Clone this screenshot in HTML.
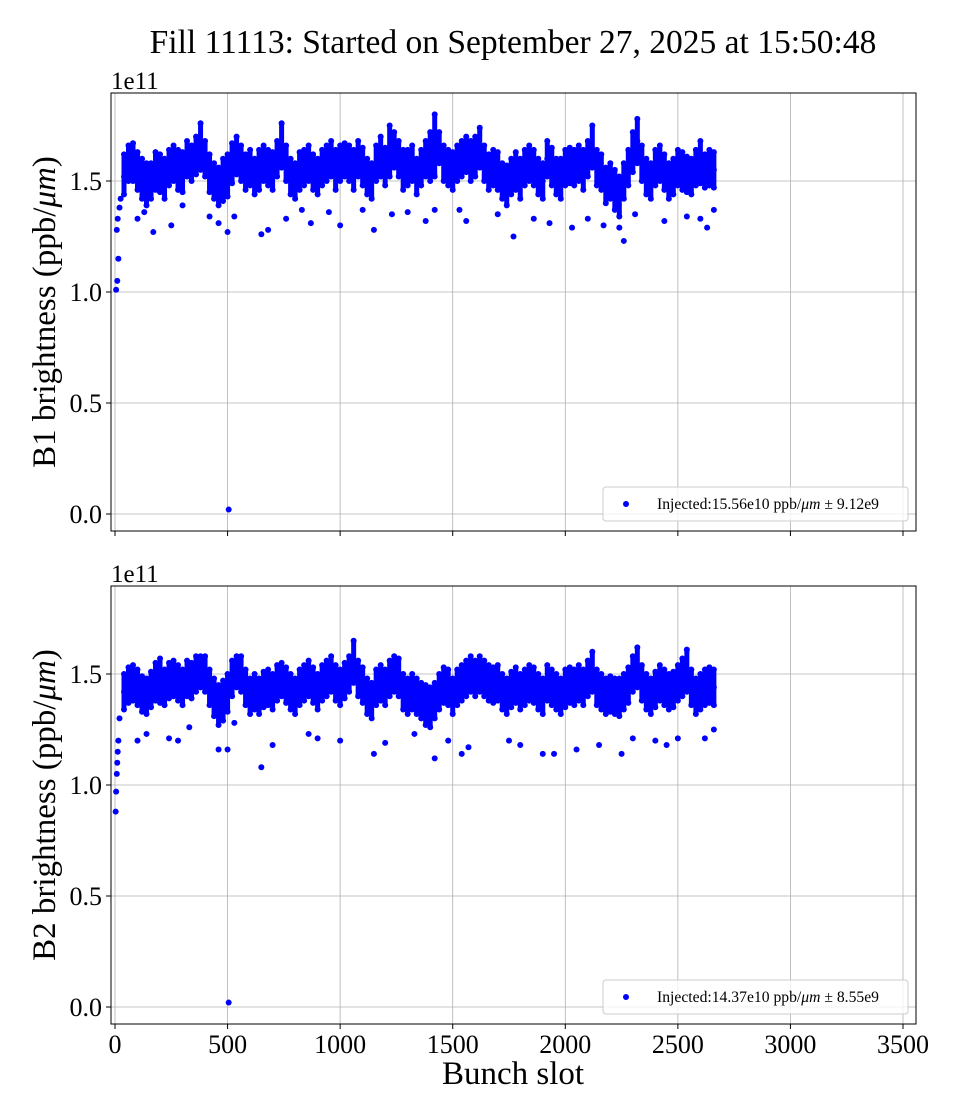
<!DOCTYPE html>
<html><head><meta charset="utf-8"><style>
body{margin:0;background:#fff}
svg{display:block;font-family:"Liberation Serif",serif}
</style></head><body>
<svg id="chart" width="960" height="1120" viewBox="0 0 960 1120"></svg>
<script>
const xTicks=[0,500,1000,1500,2000,2500,3000,3500];
const yTicks=[0,0.5,1.0,1.5];
const yTickLabels=["0.0","0.5","1.0","1.5"];
const slots=[];for(let s=40;s<=2660;s+=20)slots.push(s);
const b1Mid=[152,158,160,156,152,148,150,155,154,150,
156,158,155,154,160,158,162,165,160,154,
150,147,150,152,158,162,158,154,156,152,
155,158,156,154,160,165,158,152,150,155,
156,158,154,152,156,158,160,155,158,160,
158,155,160,157,152,150,158,160,156,160,
165,160,155,156,158,152,156,160,158,160,
166,158,156,154,158,160,162,158,160,164,
158,154,156,155,150,148,152,154,150,156,
158,156,152,150,160,156,152,150,156,157,
156,158,155,160,164,156,154,148,150,146,
142,150,156,162,168,158,152,150,156,158,
154,150,152,156,155,153,152,156,157,155,
156,155];
const b1Hi=[162,166,167,163,160,158,158,163,162,160,
164,166,164,163,168,166,170,176,168,162,
158,156,160,162,167,170,166,162,164,160,
164,166,164,163,168,176,166,160,158,163,
164,166,162,160,164,166,168,164,166,167,
166,164,168,165,160,158,166,170,165,175,
172,168,164,164,166,160,164,168,172,180,
172,166,164,163,166,168,170,168,170,174,
166,162,164,163,158,157,160,163,160,164,
166,164,160,158,168,165,160,160,164,165,
164,166,164,168,175,164,162,156,158,155,
152,158,164,172,178,166,160,158,164,166,
162,158,160,164,163,161,160,164,168,162,
164,163];
const b1Lo=[144,150,150,146,142,139,142,146,145,142,
148,150,146,145,152,150,153,155,152,145,
142,139,141,143,149,153,150,146,148,144,
146,150,148,146,152,156,150,144,142,146,
148,150,146,144,148,150,152,146,150,152,
150,146,152,148,144,142,150,152,148,152,
156,152,146,148,150,144,148,152,150,152,
158,150,148,146,150,152,154,150,152,156,
150,146,148,146,142,139,144,146,142,148,
150,148,144,142,152,148,144,142,148,149,
148,150,146,152,156,148,146,140,142,137,
134,142,148,154,158,150,144,142,148,150,
146,142,144,148,146,145,144,148,149,147,
148,147];
const b2Mid=[142,145,146,144,141,140,143,146,145,144,
147,148,146,144,148,147,150,152,150,144,
140,136,138,142,148,152,150,144,140,142,
140,143,144,142,146,148,145,142,140,144,
146,148,145,142,146,148,150,146,144,147,
150,155,148,145,140,138,144,146,144,148,
150,148,142,140,142,140,138,135,134,138,
142,145,144,140,144,146,148,150,148,150,
148,146,145,146,142,140,143,145,142,144,
146,145,142,140,146,144,142,140,143,145,
144,146,144,148,150,144,142,140,141,140,
140,142,145,150,152,146,142,140,143,146,
144,142,143,146,148,150,144,140,142,144,
145,144];
const b2Hi=[150,153,154,152,149,148,151,155,157,152,
155,156,154,152,156,155,158,158,158,152,
148,145,147,150,156,158,158,152,148,150,
148,151,152,150,154,155,153,150,148,152,
154,156,153,150,154,156,158,154,152,155,
158,165,156,153,148,146,152,154,152,156,
158,157,150,148,150,148,146,145,144,146,
150,153,152,148,152,154,156,158,156,158,
156,154,153,154,150,148,151,153,150,152,
154,153,150,148,154,152,150,148,152,153,
152,154,152,156,160,152,150,148,149,148,
148,150,153,158,162,154,150,148,151,154,
152,150,151,154,157,161,152,148,150,152,
153,152];
const b2Lo=[134,137,138,136,133,132,135,138,137,136,
139,140,138,136,140,139,142,144,142,136,
131,127,129,133,140,144,142,136,132,134,
132,135,136,134,138,140,137,134,132,136,
138,140,137,134,138,140,142,138,136,139,
142,146,140,137,132,130,136,138,136,140,
142,140,134,132,134,132,130,127,126,130,
134,137,136,132,136,138,140,142,140,142,
140,138,137,138,134,132,135,137,134,136,
138,137,134,132,138,136,134,132,135,137,
136,138,136,140,142,136,134,132,133,132,
131,134,137,142,144,138,134,132,135,138,
136,134,135,138,140,142,136,132,134,136,
137,136];
const b1OutSlot=[5,10,15,8,12,20,25,100,130,170,250,300,420,460,500,530,505,650,680,760,830,870,950,1000,1100,1150,1230,1300,1380,1420,1530,1560,1700,1770,1860,1930,2030,2100,2170,2240,2260,2310,2440,2540,2600,2630,2660];
const b1OutVal=[101,105,115,128,133,138,142,133,136,127,130,139,134,131,127,134,2,126,128,133,137,131,136,130,137,128,135,136,132,137,137,132,135,125,133,131,129,133,130,129,123,135,132,134,133,129,137];
const b2OutSlot=[3,5,8,10,12,15,20,100,140,240,280,330,460,500,505,530,650,700,860,900,1000,1150,1200,1330,1420,1480,1540,1570,1750,1800,1900,1950,2050,2150,2250,2300,2400,2450,2500,2620,2660];
const b2OutVal=[88,97,105,110,115,120,130,120,123,121,120,126,116,116,2,128,108,118,123,121,120,114,119,123,112,120,114,117,120,118,114,114,116,118,114,121,120,118,121,121,125];

const NS="http://www.w3.org/2000/svg";
const svg=document.getElementById('chart');
function mk(tag,attrs,parent){const e=document.createElementNS(NS,tag);for(const k in attrs)e.setAttribute(k,attrs[k]);(parent||svg).appendChild(e);return e;}
const xs=v=>115+v*(788/3500);

function panel(p){
  const g=mk('g',{});
  
  
  const ys=v=>p.y0+(v/0.5)*(p.y05-p.y0);
  xTicks.forEach(t=>{const l=mk('line',{x1:xs(t),x2:xs(t),y1:p.top,y2:p.bot,stroke:'#b0b0b0','stroke-width':0.8},g);
    });
  yTicks.forEach(t=>{const l=mk('line',{x1:111,x2:916,y1:ys(t),y2:ys(t),stroke:'#b0b0b0','stroke-width':0.8},g);
    });
  const dg=mk('g',{fill:'#0000ff',stroke:'#0000ff'},g);
  
  
  slots.forEach((s,i)=>{
    mk('line',{x1:xs(s),x2:xs(s),y1:ys(p.hi[i]/100),y2:ys(p.lo[i]/100),'stroke-width':5,'stroke-linecap':'round'},dg);
    [p.hi[i],p.mid[i],p.lo[i]].forEach(v=>{const c=mk('circle',{cx:xs(s),cy:ys(v/100),r:3,stroke:'none'},dg);
      });
  });
  p.os.forEach((s,i)=>{const c=mk('circle',{cx:xs(s),cy:ys(p.ov[i]/100),r:3,stroke:'none'},dg);
    });
  const f=mk('rect',{x:111,y:p.top,width:805,height:p.bot-p.top,fill:'none',stroke:'#000','stroke-width':1},g);
  
  xTicks.forEach(t=>{mk('line',{x1:xs(t),x2:xs(t),y1:p.bot,y2:p.bot+5,stroke:'#000'},g);
    if(p.xlabels){const tx=mk('text',{x:xs(t),y:p.bot+29,'font-size':26,'text-anchor':'middle'},g);tx.textContent=t;
      }});
  yTicks.forEach((t,i)=>{mk('line',{x1:106,x2:111,y1:ys(t),y2:ys(t),stroke:'#000'},g);
    const tx=mk('text',{x:102,y:ys(t)+9,'font-size':26,'text-anchor':'end'},g);tx.textContent=yTickLabels[i];
    });
  const m=mk('text',{x:111,y:p.top-4,'font-size':25},g);m.textContent='1e11';
  
  const yl=mk('text',{x:0,y:0,'font-size':33,'text-anchor':'middle',transform:`translate(55,${(p.top+p.bot)/2}) rotate(-90)`},g);
  yl.innerHTML=p.ylabel+' brightness (ppb/<tspan font-style="italic">μm</tspan>)';
  
  const lg=mk('g',{},g);
  
  mk('rect',{x:603,y:p.bot-44,width:305,height:34,rx:3,fill:'#fff','fill-opacity':0.8,stroke:'#cccccc'},lg);
  mk('circle',{cx:626,cy:p.bot-27,r:3,fill:'#0000ff'},lg);
  const lt=mk('text',{x:657,y:p.bot-22,'font-size':16,textLength:222,lengthAdjust:'spacingAndGlyphs'},lg);
  lt.innerHTML=p.legend;
  
}
panel({name:'b1-panel',series:'b1-series',top:93,bot:531,y0:514,y05:403,mid:b1Mid,hi:b1Hi,lo:b1Lo,os:b1OutSlot,ov:b1OutVal,ylabel:'B1',xlabels:false,
 legend:'Injected:15.56e10 ppb/<tspan font-style="italic">μm</tspan> ±  9.12e9'});
panel({name:'b2-panel',series:'b2-series',top:586,bot:1024,y0:1007,y05:896,mid:b2Mid,hi:b2Hi,lo:b2Lo,os:b2OutSlot,ov:b2OutVal,ylabel:'B2',xlabels:true,
 legend:'Injected:14.37e10 ppb/<tspan font-style="italic">μm</tspan> ±  8.55e9'});
const t=mk('text',{x:513,y:53,'font-size':33.5,'text-anchor':'middle'});
t.textContent='Fill 11113: Started on September 27, 2025 at 15:50:48';

const xl=mk('text',{x:513,y:1084,'font-size':33,'text-anchor':'middle'});
xl.textContent='Bunch slot';

</script>
</body></html>
